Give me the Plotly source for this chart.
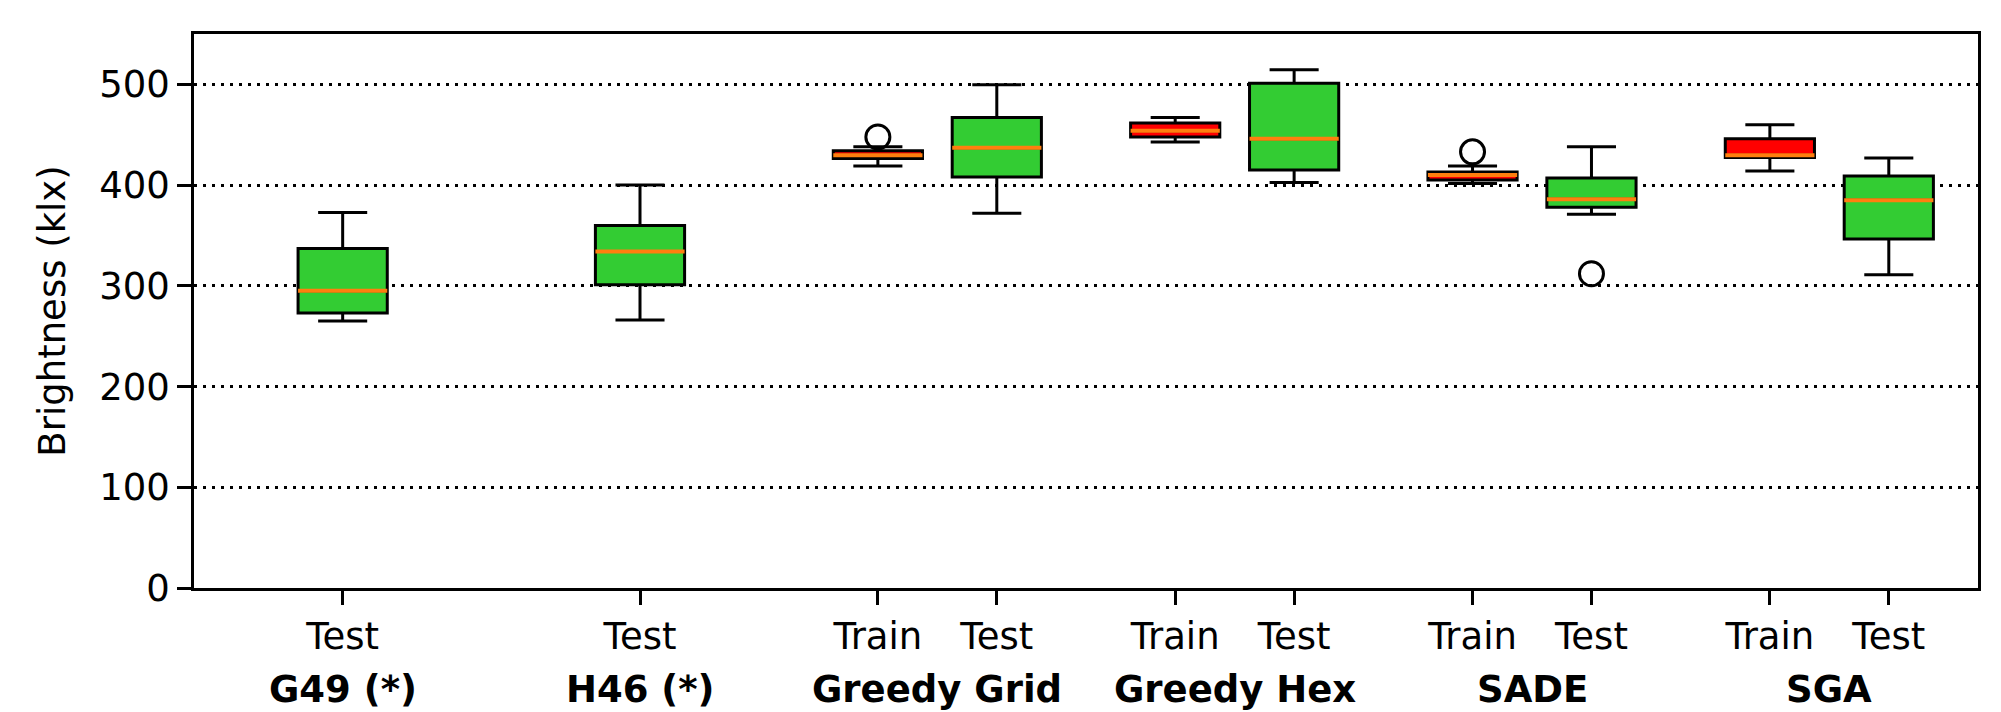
import plotly.graph_objects as go

# ---- data ----
positions = [1, 3.5, 5.5, 6.5, 8, 9, 10.5, 11.5, 13, 14]
tick_labels = ["Test", "Test", "Train", "Test", "Train", "Test", "Train", "Test", "Train", "Test"]
kinds = ["Test", "Test", "Train", "Test", "Train", "Test", "Train", "Test", "Train", "Test"]
groups = ["G49 (*)", "H46 (*)", "Greedy Grid", "Greedy Hex", "SADE", "SGA"]
group_members = [[0], [1], [2, 3], [4, 5], [6, 7], [8, 9]]

lower = [265, 266, 419, 372, 442.7, 402.6, 401.7, 371, 414, 311]
q1 = [273, 301, 426.5, 408, 447.7, 415, 405, 378, 427.4, 346.6]
median = [295, 334, 429.6, 437, 454, 446, 410, 386, 429.6, 385]
q3 = [337, 360, 434, 467, 461.7, 501, 413, 407, 446, 409]
upper = [372.8, 400, 438, 499.6, 467, 514.5, 419, 438, 460, 427]
outliers = [[], [], [447.7], [], [], [], [433], [312], [], []]

colors = {"Train": "#ff0000", "Test": "#33cc33"}
median_color = "#ff7f0e"
box_w = 0.75
font_family = "DejaVu Sans"
fs = 37

fig = go.Figure()

for i, p in enumerate(positions):
    fig.add_trace(go.Box(
        x=[p], q1=[q1[i]], median=[median[i]], q3=[q3[i]],
        lowerfence=[lower[i]], upperfence=[upper[i]],
        width=box_w, whiskerwidth=0.55,
        fillcolor=colors[kinds[i]],
        line=dict(color="black", width=3),
        boxpoints=False, showlegend=False, hoverinfo="skip",
    ))

# orange median lines
mx, my = [], []
for i, p in enumerate(positions):
    mx += [p - box_w / 2, p + box_w / 2, None]
    my += [median[i], median[i], None]
fig.add_trace(go.Scatter(x=mx, y=my, mode="lines",
                         line=dict(color=median_color, width=4),
                         showlegend=False, hoverinfo="skip"))

# outliers
ox, oy = [], []
for i, p in enumerate(positions):
    for v in outliers[i]:
        ox.append(p)
        oy.append(v)
fig.add_trace(go.Scatter(x=ox, y=oy, mode="markers",
                         marker=dict(symbol="circle-open", size=24, color="black",
                                     line=dict(width=3, color="black")),
                         showlegend=False, hoverinfo="skip"))

# group labels
for g, mem in zip(groups, group_members):
    cx = sum(positions[m] for m in mem) / len(mem)
    fig.add_annotation(x=cx, xref="x", y=-0.184, yref="paper",
                       text="<b>%s</b>" % g, showarrow=False,
                       yanchor="middle", xanchor="center",
                       font=dict(family=font_family, size=fs, color="black"))

fig.update_layout(
    width=2001, height=712,
    margin=dict(l=194, r=23, t=34, b=124, autoexpand=False),
    paper_bgcolor="white", plot_bgcolor="white",
    font=dict(family=font_family, size=fs, color="black"),
    boxmode="overlay",
)
fig.update_xaxes(
    range=[-0.25, 14.75], tickmode="array", tickvals=positions, ticktext=tick_labels,
    showgrid=False, zeroline=False, automargin=False,
    showline=True, mirror=True, linecolor="black", linewidth=2.5,
    ticks="outside", ticklen=14, tickwidth=2.5, tickcolor="black",
    tickfont=dict(size=fs),
)
fig.update_yaxes(
    range=[0, 550], tickvals=[0, 100, 200, 300, 400, 500],
    showgrid=True, gridcolor="black", gridwidth=2.5, griddash="3px,6px",
    zeroline=False, automargin=False,
    showline=True, mirror=True, linecolor="black", linewidth=2.5,
    ticks="outside", ticklen=14, tickwidth=2.5, tickcolor="black",
    tickfont=dict(size=fs),
    title=dict(text="Brightness (klx)", font=dict(size=fs), standoff=23),
)

fig.write_html("out.html",
               config={"displayModeBar": False},
               post_script="document.body.style.margin='0';document.body.style.overflow='hidden';")
